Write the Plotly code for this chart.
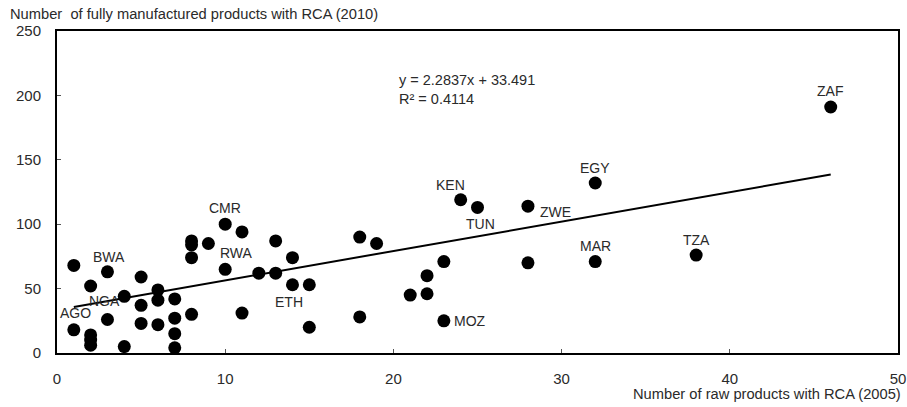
import plotly.graph_objects as go

# Data: number of raw products with RCA (2005) vs fully manufactured products with RCA (2010)
raw_2005 = [1, 1, 2, 2, 2, 2, 3, 3, 4, 4, 5, 5, 5, 6, 6, 6, 7, 7, 7, 7,
            8, 8, 8, 8, 9, 10, 10, 11, 11, 12, 13, 13, 14, 14, 15, 15,
            18, 18, 19, 21, 22, 22, 23, 23, 24, 25, 28, 28, 32, 32, 38, 46]
manuf_2010 = [68, 18, 52, 14, 10, 6, 63, 26, 44, 5, 59, 37, 23, 49, 41, 22, 42, 27, 15, 4,
              87, 84, 74, 30, 85, 100, 65, 94, 31, 62, 87, 62, 74, 53, 53, 20,
              90, 28, 85, 45, 60, 46, 71, 25, 119, 113, 114, 70, 132, 71, 76, 191]
labels = ["", "AGO", "", "", "", "", "BWA", "NGA", "", "", "", "", "", "", "", "", "", "", "", "",
          "", "", "", "", "", "CMR", "RWA", "", "", "", "", "", "", "ETH", "", "",
          "", "", "", "", "", "", "", "MOZ", "KEN", "TUN", "ZWE", "", "EGY", "MAR", "TZA", "ZAF"]
# label placement: (xshift, yshift) in pixels relative to the point
label_offsets = {
    "AGO": (2, 17), "BWA": (2, 15), "NGA": (-3, 19), "CMR": (0, 16), "RWA": (11, 16),
    "ETH": (-3, -17), "MOZ": (26, 0), "KEN": (-10, 15), "TUN": (3, -17), "ZWE": (28, -6),
    "EGY": (0, 15), "MAR": (0, 16), "TZA": (0, 15), "ZAF": (-1, 16),
}
slope = 2.2837
intercept = 33.491
r2 = 0.4114

FONT = "Liberation Sans, Arial, sans-serif"
TXT = "#2a2a2a"

fig = go.Figure()

xmin, xmax = min(raw_2005), max(raw_2005)
fig.add_trace(go.Scatter(
    x=[xmin, xmax], y=[slope * xmin + intercept, slope * xmax + intercept],
    mode="lines", line=dict(color="black", width=2), hoverinfo="skip", showlegend=False))

fig.add_trace(go.Scatter(
    x=raw_2005, y=manuf_2010, mode="markers",
    marker=dict(color="black", size=13, line=dict(width=0)), showlegend=False))

annotations = []
for xv, yv, lab in zip(raw_2005, manuf_2010, labels):
    if lab:
        dx, dy = label_offsets[lab]
        annotations.append(dict(x=xv, y=yv, xref="x", yref="y", text=lab, showarrow=False,
                                xshift=dx, yshift=dy, font=dict(family=FONT, size=14, color=TXT)))

annotations.append(dict(
    x=0, y=1, xref="paper", yref="paper", xanchor="left", yanchor="bottom", xshift=-49, yshift=7,
    text="Number  of fully manufactured products with RCA (2010)", showarrow=False,
    font=dict(family=FONT, size=14.7, color=TXT)))
annotations.append(dict(
    x=1, y=0, xref="paper", yref="paper", xanchor="right", yanchor="top", xshift=5, yshift=-31,
    text="Number of raw products with RCA (2005)", showarrow=False,
    font=dict(family=FONT, size=14.7, color=TXT)))
annotations.append(dict(
    x=20.2, y=220, xref="x", yref="y", xanchor="left", yanchor="top",
    text=f"y = {slope}x + {intercept}<br>R² = {r2}", showarrow=False, align="left",
    font=dict(family=FONT, size=14.5, color=TXT)))

fig.update_layout(
    width=907, height=407,
    margin=dict(l=57, r=9, t=31, b=54, autoexpand=False),
    paper_bgcolor="white", plot_bgcolor="white",
    annotations=annotations,
    font=dict(family=FONT, size=15, color=TXT),
    xaxis=dict(range=[0, 50], tickvals=[0, 10, 20, 30, 40, 50], showgrid=False, zeroline=False,
               showline=True, linecolor="black", linewidth=2, mirror=True, automargin=False,
               ticks="inside", ticklen=4, tickcolor="#555", ticklabelstandoff=11),
    yaxis=dict(range=[0, 250], tickvals=[0, 50, 100, 150, 200, 250], showgrid=False, zeroline=False,
               showline=True, linecolor="black", linewidth=2, mirror=True, automargin=False,
               ticks="inside", ticklen=4, tickcolor="#555", ticklabelstandoff=11),
)

fig.write_html("out.html")
